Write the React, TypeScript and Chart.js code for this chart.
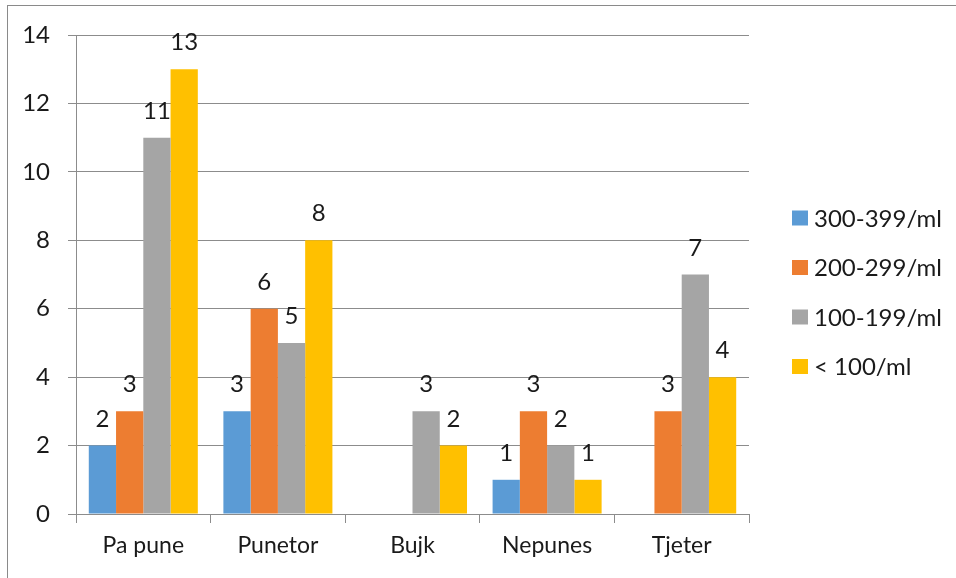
import React, { useEffect, useRef } from "react";
import { Chart, registerables } from "chart.js";

Chart.register(...registerables);

const categories = ["Pa pune", "Punetor", "Bujk", "Nepunes", "Tjeter"];
const seriesLabels = ["300-399/ml", "200-299/ml", "100-199/ml", "< 100/ml"];
const s300: (number | null)[] = [2, 3, null, 1, null];
const s200: (number | null)[] = [3, 6, null, 3, 3];
const s100: (number | null)[] = [11, 5, 3, 2, 7];
const sLt100: (number | null)[] = [13, 8, 2, 1, 4];
const colors = ["#5B9BD5", "#ED7D31", "#A5A5A5", "#FFC000"];
const yTicks = [0, 2, 4, 6, 8, 10, 12, 14];

const FONT = "Lato, 'Open Sans', sans-serif";

const labelPlugin = {
  id: "barLabels",
  afterDatasetsDraw(chart: any) {
    const ctx = chart.ctx;
    ctx.save();
    ctx.font = `24px ${FONT}`;
    ctx.fillStyle = "#1a1a1a";
    ctx.textAlign = "center";
    ctx.textBaseline = "alphabetic";
    chart.data.datasets.forEach((ds: any, i: number) => {
      const meta = chart.getDatasetMeta(i);
      meta.data.forEach((bar: any, j: number) => {
        const v = ds.data[j];
        if (v === null || v === undefined) return;
        ctx.fillText(String(v), bar.x, bar.y - 19);
      });
    });
    ctx.restore();
  },
};

const legendPlugin = {
  id: "customLegend",
  afterDraw(chart: any) {
    const ctx = chart.ctx;
    ctx.save();
    ctx.font = `24px ${FONT}`;
    ctx.textBaseline = "middle";
    ctx.textAlign = "left";
    chart.data.datasets.forEach((ds: any, i: number) => {
      const y = 218 + i * 49.5;
      ctx.fillStyle = ds.backgroundColor;
      ctx.fillRect(792, y - 7.5, 16, 15);
      ctx.fillStyle = "#1a1a1a";
      ctx.fillText(ds.label, 814, y + 1);
    });
    ctx.restore();
  },
};

export default function App() {
  const ref = useRef<HTMLCanvasElement | null>(null);
  useEffect(() => {
    if (!ref.current) return;
    const series = [s300, s200, s100, sLt100];
    const chart = new Chart(ref.current, {
      type: "bar",
      data: {
        labels: categories,
        datasets: series.map((d, i) => ({
          label: seriesLabels[i],
          data: d,
          backgroundColor: colors[i],
          borderWidth: 0,
          barPercentage: 1,
          categoryPercentage: 0.81,
        })),
      },
      options: {
        animation: false,
        responsive: false,
        devicePixelRatio: 1,
        layout: { padding: { top: 35, right: 207, left: 0, bottom: 0 } },
        plugins: { legend: { display: false }, tooltip: { enabled: false } },
        scales: {
          x: {
            grid: {
              offset: true,
              drawOnChartArea: false,
              drawTicks: true,
              tickLength: 9,
              color: "#8c8c8c",
            },
            border: { color: "#8c8c8c", width: 1 },
            ticks: {
              font: { family: FONT, size: 23 },
              color: "#1a1a1a",
              padding: 9,
            },
            afterFit: (s: any) => {
              s.height = 64;
            },
          },
          y: {
            min: 0,
            max: 14,
            afterBuildTicks: (s: any) => {
              s.ticks = yTicks.map((v) => ({ value: v }));
            },
            grid: { color: "#8c8c8c", tickLength: 8 },
            border: { color: "#8c8c8c", width: 1 },
            ticks: {
              font: { family: FONT, size: 24 },
              color: "#1a1a1a",
              padding: 18,
            },
            afterFit: (s: any) => {
              s.width = 76;
            },
          },
        },
      },
      plugins: [labelPlugin, legendPlugin],
    });
    return () => chart.destroy();
  }, []);
  return (
    <div
      style={{
        position: "fixed",
        left: 0,
        top: 0,
        width: 956,
        height: 578,
        background: "#fff",
      }}
    >
      <div
        style={{
          position: "absolute",
          left: 7,
          top: 5,
          right: 0,
          bottom: 0,
          borderLeft: "1.5px solid #8a8a8a",
          borderTop: "1.5px solid #8a8a8a",
        }}
      />
      <canvas
        ref={ref}
        width={956}
        height={578}
        style={{ position: "absolute", left: 0, top: 0 }}
      />
    </div>
  );
}
